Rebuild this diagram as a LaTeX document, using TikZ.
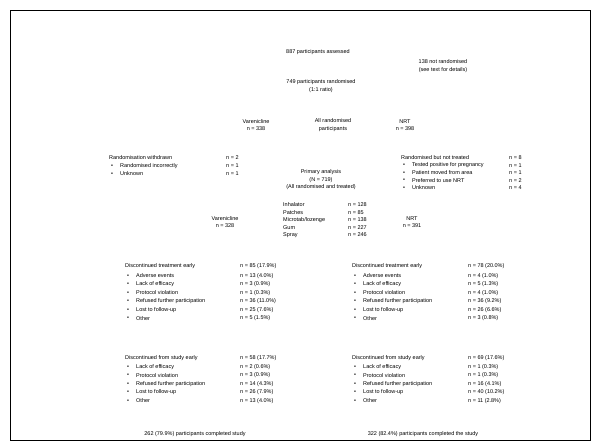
\documentclass[tikz,border=0pt]{standalone}
\usepackage{fontspec}
\setmainfont{Liberation Sans}
\begin{document}
\begin{tikzpicture}[x=1pt,y=-1pt,
  t/.style={font=\fontsize{5.5}{7.5}\selectfont, inner sep=0pt, text=black},
  lt/.style={t, anchor=west},
  ct/.style={t, align=center}]
\useasboundingbox (0,0) rectangle (600,445);
\draw[line width=0.6pt] (10,10) rectangle (590,440);

% top
\node[ct] (assess) at (318,52) {887 participants assessed};
\node[ct] (excl) at (443,66) {138 not randomised\\(see text for details)};
\node[ct] (rand) at (321,86) {749 participants randomised\\(1:1 ratio)};
\node[ct] (var1) at (256,125) {Varenicline\\n = 338};
\node[ct] (allr) at (333,125) {All randomised\\participants};
\node[ct] (nrt1) at (405,125) {NRT\\n = 398};

% left withdrawn list
\node[lt] (lwh) at (109,158) {Randomisation withdrawn};
\node[lt] (lwhn) at (226,158) {n = 2};
\node[lt] (lwb1) at (111,166) {•};
\node[lt] (lw1) at (120,166) {Randomised incorrectly};
\node[lt] (lw1n) at (226,166) {n = 1};
\node[lt] (lwb2) at (111,174) {•};
\node[lt] (lw2) at (120,174) {Unknown};
\node[lt] (lw2n) at (226,174) {n = 1};

% right not-treated list
\node[lt] (rnh) at (401,158) {Randomised but not treated};
\node[lt] (rnhn) at (509,158) {n = 8};
\node[lt] (rnb1) at (403,165.5) {•};
\node[lt] (rn1) at (412,165.5) {Tested positive for pregnancy};
\node[lt] (rn1n) at (509,165.5) {n = 1};
\node[lt] (rnb2) at (403,173) {•};
\node[lt] (rn2) at (412,173) {Patient moved from area};
\node[lt] (rn2n) at (509,173) {n = 1};
\node[lt] (rnb3) at (403,180.5) {•};
\node[lt] (rn3) at (412,180.5) {Preferred to use NRT};
\node[lt] (rn3n) at (509,180.5) {n = 2};
\node[lt] (rnb4) at (403,188) {•};
\node[lt] (rn4) at (412,188) {Unknown};
\node[lt] (rn4n) at (509,188) {n = 4};

% primary analysis
\node[ct] (prim) at (321,180) {Primary analysis\\(N = 719)\\(All randomised and treated)};

% middle list
\node[ct] (var2) at (225,222) {Varenicline\\n = 328};
\node[ct] (nrt2) at (412,222) {NRT\\n = 391};
\node[lt] (m1) at (283,205) {Inhalator};   \node[lt] (m1n) at (348,205) {n = 128};
\node[lt] (m2) at (283,212.5) {Patches};   \node[lt] (m2n) at (348,212.5) {n = 85};
\node[lt] (m3) at (283,220) {Microtab/lozenge}; \node[lt] (m3n) at (348,220) {n = 138};
\node[lt] (m4) at (283,227.5) {Gum};       \node[lt] (m4n) at (348,227.5) {n = 227};
\node[lt] (m5) at (283,235) {Spray};       \node[lt] (m5n) at (348,235) {n = 246};

% left discontinued treatment
\node[lt] (ldh) at (125,266) {Discontinued treatment early};
\node[lt] (ldhn) at (240,266) {n = 85 (17.9\%)};
\foreach \t/\n/\yy [count=\i] in {Adverse events/n = 13 (4.0\%)/276,
  Lack of efficacy/n = 3 (0.9\%)/284.5,
  Protocol violation/n = 1 (0.3\%)/293,
  Refused further participation/n = 36 (11.0\%)/301.5,
  Lost to follow-up/n = 25 (7.6\%)/310,
  Other/n = 5 (1.5\%)/318.5}{
  \node[lt] (ldb\i) at (127,\yy) {•};
  \node[lt] (ld\i) at (136,\yy) {\t};
  \node[lt] (ldn\i) at (240,\yy) {\n};
}

% right discontinued treatment
\node[lt] (rdh) at (352,266) {Discontinued treatment early};
\node[lt] (rdhn) at (468,266) {n = 78 (20.0\%)};
\foreach \t/\n/\yy [count=\i] in {Adverse events/n = 4 (1.0\%)/276,
  Lack of efficacy/n = 5 (1.3\%)/284.5,
  Protocol violation/n = 4 (1.0\%)/293,
  Refused further participation/n = 36 (9.2\%)/301.5,
  Lost to follow-up/n = 26 (6.6\%)/310,
  Other/n = 3 (0.8\%)/318.5}{
  \node[lt] (rdb\i) at (354,\yy) {•};
  \node[lt] (rd\i) at (363,\yy) {\t};
  \node[lt] (rdn\i) at (468,\yy) {\n};
}

% left discontinued study
\node[lt] (lsh) at (125,358) {Discontinued from study early};
\node[lt] (lshn) at (240,358) {n = 58 (17.7\%)};
\foreach \t/\n/\yy [count=\i] in {Lack of efficacy/n = 2 (0.6\%)/367,
  Protocol violation/n = 3 (0.9\%)/375.5,
  Refused further participation/n = 14 (4.3\%)/384,
  Lost to follow-up/n = 26 (7.9\%)/392.5,
  Other/n = 13 (4.0\%)/401}{
  \node[lt] (lsb\i) at (127,\yy) {•};
  \node[lt] (ls\i) at (136,\yy) {\t};
  \node[lt] (lsn\i) at (240,\yy) {\n};
}

% right discontinued study
\node[lt] (rsh) at (352,358) {Discontinued from study early};
\node[lt] (rshn) at (468,358) {n = 69 (17.6\%)};
\foreach \t/\n/\yy [count=\i] in {Lack of efficacy/n = 1 (0.3\%)/367,
  Protocol violation/n = 1 (0.3\%)/375.5,
  Refused further participation/n = 16 (4.1\%)/384,
  Lost to follow-up/n = 40 (10.2\%)/392.5,
  Other/n = 11 (2.8\%)/401}{
  \node[lt] (rsb\i) at (354,\yy) {•};
  \node[lt] (rs\i) at (363,\yy) {\t};
  \node[lt] (rsn\i) at (468,\yy) {\n};
}

% bottom
\node[ct] (lend) at (195,434) {262 (79.9\%) participants completed study};
\node[ct] (rend) at (423,434) {322 (82.4\%) participants completed the study};
\end{tikzpicture}
\end{document}
